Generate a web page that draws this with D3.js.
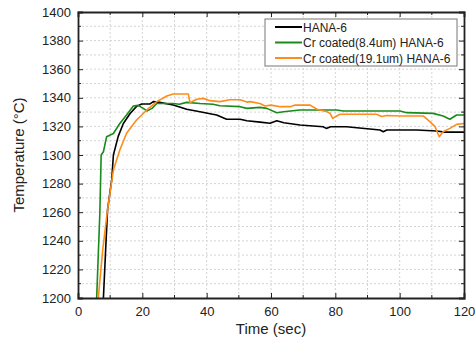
<!DOCTYPE html>
<html>
<head>
<meta charset="utf-8">
<script src="https://cdn.jsdelivr.net/npm/d3@7"></script>
<style>
body { margin: 0; background: #fff; }
text { font-family: "Liberation Sans", Arial, sans-serif; fill: #222; }
</style>
</head>
<body>
<div id="container"></div>
<script>
const width = 476
const height = 347
const margin = { left: 78, top: 12, right: 12, bottom: 49 }

const seriesNames = ["HANA-6", "Cr coated(8.4um) HANA-6", "Cr coated(19.1um) HANA-6"]
const seriesColors = ["#000000", "#1a8a1a", "#ff8c1a"]

// [time (sec), temperature (C)]
const hana6 = [
    [7.9, 1200], [8.6, 1234], [9.2, 1262], [10.5, 1283], [11, 1300], [12.5, 1313], [14.1, 1322],
    [16.2, 1329], [18.2, 1334], [19.8, 1335.7], [22.4, 1335.7], [23.4, 1337.3], [25.4, 1336.8],
    [29.6, 1335], [33.8, 1332], [37.9, 1330.3], [43.1, 1328], [46.2, 1325], [50.4, 1325],
    [52.5, 1324], [56.6, 1323], [59.7, 1322.2], [61.8, 1324], [64, 1322.5], [69, 1321],
    [76.2, 1319.8], [77.2, 1318.6], [78.5, 1319.8], [83.5, 1319.8], [93.9, 1317.5], [94.9, 1316.3],
    [96, 1317.5], [105.3, 1317.5], [111.5, 1316.8], [114, 1316], [120, 1316]
]

const cr84 = [
    [5.8, 1200], [6.8, 1260], [7.2, 1300], [7.9, 1302.3], [8.9, 1312.8], [11, 1315], [13, 1322],
    [15.1, 1328], [17.2, 1334.3], [18.7, 1334.7], [20.3, 1332.6], [21.4, 1330.8], [23, 1332.6],
    [24.5, 1336], [29.6, 1336], [31.5, 1335.5], [33.8, 1336.8], [37.9, 1336], [42, 1335.5],
    [44.1, 1334.4], [50.4, 1333.8], [52.5, 1332.6], [56.6, 1333.3], [58.7, 1332.6], [61.8, 1329.6],
    [63.9, 1330.3], [69, 1331.5], [80.4, 1331.5], [82.5, 1330.8], [100.1, 1330.8], [102.2, 1329.6],
    [110.4, 1329.1], [113.5, 1327.3], [115.6, 1325], [117.7, 1328], [120, 1328]
]

const cr191 = [
    [6.3, 1200], [7.7, 1234], [9.2, 1262], [11, 1289.5], [13, 1303.5], [15.1, 1315.2],
    [18.2, 1324.5], [21.4, 1331.5], [24.5, 1337.3], [27.6, 1341.3], [29.6, 1342.7], [34.3, 1342.7],
    [34.8, 1336.6], [36.9, 1339], [39, 1339.6], [41, 1338], [44.1, 1337.3], [47.2, 1338.6],
    [50.4, 1338.6], [52.5, 1337], [53.5, 1337.3], [56.6, 1336], [58.1, 1334.3], [60, 1334.9],
    [62.9, 1333.8], [66, 1333.8], [67.5, 1334.9], [72.2, 1334.9], [74.3, 1332], [77.4, 1330.3],
    [78.4, 1329], [79.2, 1325.6], [80.4, 1327.3], [81.5, 1328.5], [92.8, 1328.5], [94.4, 1326.9],
    [96, 1327.6], [100.1, 1327.3], [107.3, 1327.3], [109.4, 1323.3], [111, 1319.8], [112.3, 1312.8],
    [113.5, 1316.3], [115.6, 1318.6], [117.7, 1321.4], [120, 1322]
]

const xTicks = [0, 20, 40, 60, 80, 100, 120]
const yTicks = [1200, 1220, 1240, 1260, 1280, 1300, 1320, 1340, 1360, 1380, 1400]

const svg = d3.select("#container").append("svg")
    .attr("width", width).attr("height", height)

const x = d3.scaleLinear().domain([0, 120]).range([margin.left, width - margin.right])
const y = d3.scaleLinear().domain([1200, 1400]).range([height - margin.bottom, margin.top])

const minorX = d3.range(0, 121, 10)
const minorY = d3.range(1200, 1401, 10)

// grid
svg.append("g").selectAll("line").data(minorX.slice(1, -1)).join("line")
    .attr("x1", d => x(d)).attr("x2", d => x(d))
    .attr("y1", y(1200)).attr("y2", y(1400))
    .attr("stroke", "#d4d4d4").attr("stroke-dasharray", "2,2")
svg.append("g").selectAll("line").data(minorY.slice(1, -1)).join("line")
    .attr("y1", d => y(d)).attr("y2", d => y(d))
    .attr("x1", x(0)).attr("x2", x(120))
    .attr("stroke", "#d4d4d4").attr("stroke-dasharray", "2,2")

// curves
svg.append("clipPath").attr("id", "clip").append("rect")
    .attr("x", x(0)).attr("y", y(1400)).attr("width", x(120) - x(0)).attr("height", y(1200) - y(1400))

const line = d3.line().x(d => x(d[0])).y(d => y(d[1]))
const plot = svg.append("g").attr("clip-path", "url(#clip)")
;[hana6, cr84, cr191].forEach((s, i) => {
    plot.append("path").datum(s)
        .attr("d", line)
        .attr("fill", "none")
        .attr("stroke", seriesColors[i])
        .attr("stroke-width", 1.6)
        .attr("stroke-linejoin", "round")
})

// axes, ticks inward on all sides
const axisColor = "#222"
const fmt = d3.format("d")
const gBottom = svg.append("g").attr("transform", `translate(0,${y(1200)})`)
    .call(d3.axisBottom(x).tickValues(xTicks).tickSize(-5).tickPadding(9).tickFormat(fmt))
const gTop = svg.append("g").attr("transform", `translate(0,${y(1400)})`)
    .call(d3.axisTop(x).tickValues(xTicks).tickSize(-5).tickFormat(""))
const gLeft = svg.append("g").attr("transform", `translate(${x(0)},0)`)
    .call(d3.axisLeft(y).tickValues(yTicks).tickSize(-5).tickPadding(7).tickFormat(fmt))
const gRight = svg.append("g").attr("transform", `translate(${x(120)},0)`)
    .call(d3.axisRight(y).tickValues(yTicks).tickSize(-5).tickFormat(""))

// minor ticks
svg.append("g").selectAll("line").data(minorX.filter(d => d % 20 !== 0)).join("line")
    .attr("x1", d => x(d)).attr("x2", d => x(d))
    .attr("y1", y(1200)).attr("y2", y(1200) - 3).attr("stroke", axisColor)
svg.append("g").selectAll("line").data(minorX.filter(d => d % 20 !== 0)).join("line")
    .attr("x1", d => x(d)).attr("x2", d => x(d))
    .attr("y1", y(1400)).attr("y2", y(1400) + 3).attr("stroke", axisColor)
svg.append("g").selectAll("line").data(minorY.filter(d => d % 20 !== 0)).join("line")
    .attr("y1", d => y(d)).attr("y2", d => y(d))
    .attr("x1", x(0)).attr("x2", x(0) + 3).attr("stroke", axisColor)
svg.append("g").selectAll("line").data(minorY.filter(d => d % 20 !== 0)).join("line")
    .attr("y1", d => y(d)).attr("y2", d => y(d))
    .attr("x1", x(120)).attr("x2", x(120) - 3).attr("stroke", axisColor)

;[gBottom, gTop, gLeft, gRight].forEach(g => {
    g.select(".domain").attr("stroke", axisColor).attr("stroke-width", 1.8)
    g.selectAll(".tick line").attr("stroke", axisColor)
    g.selectAll("text").attr("font-size", 13).attr("fill", "#222")
        .attr("font-family", "'Liberation Sans', Arial, sans-serif")
})

// axis titles
svg.append("text")
    .attr("x", (x(0) + x(120)) / 2).attr("y", 334)
    .attr("text-anchor", "middle").attr("font-size", 15)
    .text("Time (sec)")
svg.append("text")
    .attr("transform", `translate(24,${(y(1200) + y(1400)) / 2}) rotate(-90)`)
    .attr("text-anchor", "middle").attr("font-size", 15)
    .text("Temperature (°C)")

// legend
const lg = svg.append("g")
lg.append("rect").attr("x", 265).attr("y", 19).attr("width", 192).attr("height", 47)
    .attr("fill", "#fff").attr("stroke", "#777").attr("stroke-width", 1)
seriesNames.forEach((name, i) => {
    const yy = 27 + i * 15.5
    lg.append("line").attr("x1", 275).attr("x2", 302).attr("y1", yy).attr("y2", yy)
        .attr("stroke", seriesColors[i]).attr("stroke-width", 2)
    lg.append("text").attr("x", 303).attr("y", yy + 4.5).attr("font-size", 12).text(name)
})
</script>
</body>
</html>
